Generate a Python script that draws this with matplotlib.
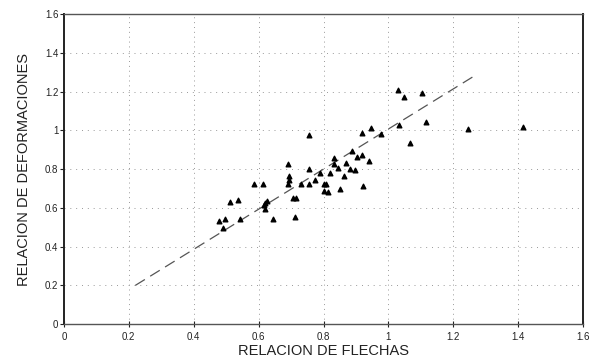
import numpy as np
import matplotlib
matplotlib.use("Agg")
import matplotlib.pyplot as plt

plt.rcParams['font.family'] = ['Liberation Sans', 'DejaVu Sans']

# puntos medidos (relacion de flechas, relacion de deformaciones)
flechas = [0.756, 0.918, 0.946, 0.976, 0.690, 0.754, 0.694, 0.695, 0.690, 0.585,
           0.613, 0.832, 0.887, 0.918, 0.902, 0.869, 0.833, 0.940, 0.845, 0.882,
           0.896, 0.819, 0.788, 0.775, 0.730, 0.755, 0.800, 0.806, 0.863, 0.802,
           0.813, 0.852, 0.920, 0.705, 0.716, 0.713, 0.644, 0.625, 0.621, 0.618,
           0.620, 0.535, 0.513, 0.495, 0.478, 0.491, 0.542, 1.029, 1.049, 1.104,
           1.033, 1.114, 1.066, 1.246, 1.415]
deformaciones = [0.974, 0.988, 1.010, 0.980, 0.828, 0.799, 0.763, 0.746, 0.725, 0.725,
                 0.725, 0.858, 0.892, 0.871, 0.862, 0.833, 0.825, 0.842, 0.804, 0.803,
                 0.794, 0.782, 0.782, 0.742, 0.725, 0.725, 0.725, 0.722, 0.763, 0.687,
                 0.683, 0.696, 0.711, 0.651, 0.651, 0.553, 0.545, 0.636, 0.625, 0.613,
                 0.593, 0.639, 0.629, 0.545, 0.534, 0.498, 0.541, 1.206, 1.172, 1.194,
                 1.027, 1.044, 0.937, 1.009, 1.017]

# recta de ajuste
recta_x = [0.22, 1.27]
recta_y = [0.20, 1.287]

ticks = [0, 0.2, 0.4, 0.6, 0.8, 1.0, 1.2, 1.4, 1.6]
tick_labels = ['0', '0.2', '0.4', '0.6', '0.8', '1', '1.2', '1.4', '1.6']

fig = plt.figure(figsize=(5.97, 3.63), dpi=100)
ax = fig.add_axes([0.107, 0.107, 0.870, 0.854])

for t in ticks[1:-1]:
    ax.axvline(t, color='#999999', lw=0.7, ls=(0, (1, 4)), zorder=1)
    ax.axhline(t, color='#999999', lw=0.7, ls=(0, (1, 5)), zorder=1)

ax.plot(recta_x, recta_y, color='#555555', lw=0.9, ls=(0, (9, 5)), zorder=2)
ax.scatter(flechas, deformaciones, marker='^', s=11, color='black', zorder=3)

ax.set_xlim(0, 1.6)
ax.set_ylim(0, 1.6)
ax.set_xticks(ticks)
ax.set_xticklabels(tick_labels)
ax.set_yticks(ticks)
ax.set_yticklabels(tick_labels)
ax.tick_params(axis='y', direction='out', length=3, width=0.8, labelsize=7, pad=1, colors='#222222')
ax.tick_params(axis='x', direction='inout', length=4, width=0.8, labelsize=7, pad=4, colors='#222222')

for s in ['left', 'right']:
    ax.spines[s].set_linewidth(1.4)
    ax.spines[s].set_color('#222222')
for s in ['top', 'bottom']:
    ax.spines[s].set_linewidth(1.0)
    ax.spines[s].set_color('#555555')

ax.set_xlabel('RELACION DE FLECHAS', fontsize=10.5, labelpad=1, color='#222222')
ax.set_ylabel('RELACION DE DEFORMACIONES', fontsize=10.5, labelpad=10, color='#222222')

fig.savefig('out.png', dpi=100)
